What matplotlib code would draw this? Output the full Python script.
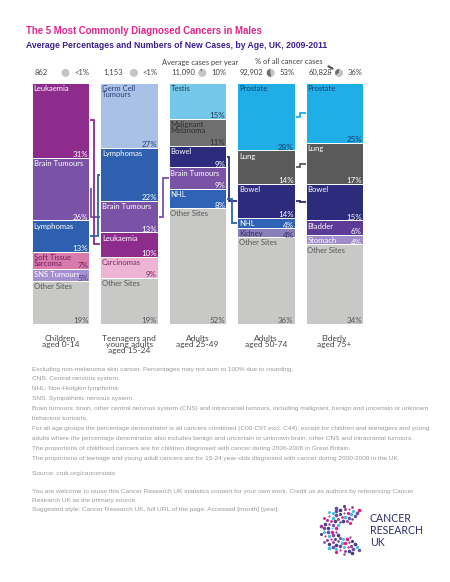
import matplotlib
matplotlib.use("Agg")
import matplotlib.pyplot as plt
import numpy as np

# ---- data ----
groups = ["Children\naged 0-14", "Teenagers and\nyoung adults\naged 15-24",
          "Adults\naged 25-49", "Adults\naged 50-74", "Elderly\naged 75+"]
cases_per_year = ["862", "1,153", "11,090", "92,902", "60,828"]
share_all = [0.5, 0.5, 10, 53, 36]
share_labels = ["<1%", "<1%", "10%", "53%", "36%"]

sites = [
    ["Leukaemia", "Brain Tumours", "Lymphomas", "Soft Tissue\nSarcoma", "SNS Tumours", "Other Sites"],
    ["Germ Cell\nTumours", "Lymphomas", "Brain Tumours", "Leukaemia", "Carcinomas", "Other Sites"],
    ["Testis", "Malignant\nMelanoma", "Bowel", "Brain Tumours", "NHL", "Other Sites"],
    ["Prostate", "Lung", "Bowel", "NHL", "Kidney", "Other Sites"],
    ["Prostate", "Lung", "Bowel", "Bladder", "Stomach", "Other Sites"],
]
percents = [
    [31, 26, 13, 7, 5, 19],
    [27, 22, 13, 10, 9, 19],
    [15, 11, 9, 9, 8, 52],
    [28, 14, 14, 4, 4, 36],
    [25, 17, 15, 6, 4, 34],
]

# links between the same site in neighbouring columns: (column, site, offset in gap)
links = [
    (0, "Brain Tumours", 0.10), (0, "Leukaemia", 0.38), (0, "Lymphomas", 0.75),
    (1, "Brain Tumours", 0.45),
    (2, "Bowel", 0.25), (2, "NHL", 0.55),
    (3, "Prostate", 0.45), (3, "Lung", 0.45), (3, "Bowel", 0.45),
]

notes = [
    "Excluding non-melanoma skin cancer. Percentages may not sum to 100% due to rounding.",
    "CNS: Central nervous system.",
    "NHL: Non-Hodgkin lymphoma.",
    "SNS: Sympathetic nervous system.",
    "Brain tumours: brain, other central nervous system (CNS) and intracranial tumours, including malignant, benign and uncertain or unknown",
    "behaviour tumours.",
    "For all age groups the percentage denominator is all cancers combined (C00-C97 excl. C44), except for children and teenagers and young",
    "adults where the percentage denominator also includes benign and uncertain or unknown brain, other CNS and intracranial tumours.",
    "The proportions of childhood cancers are for children diagnosed with cancer during 2006-2008 in Great Britain.",
    "The proportions of teenage and young adult cancers are for 15-24 year-olds diagnosed with cancer during 2000-2009 in the UK.",
]
reuse = [
    "You are welcome to reuse this Cancer Research UK statistics content for your own work. Credit us as authors by referencing Cancer",
    "Research UK as the primary source.",
    "Suggested style: Cancer Research UK, full URL of the page. Accessed [month] [year].",
]

# ---- styles ----
# fill, label colour, percent colour
style = {
    "Leukaemia": ("#8e2c8e", "white", "white"),
    "Brain Tumours": ("#7a52a6", "white", "white"),
    "Lymphomas": ("#2f5faf", "white", "white"),
    "Soft Tissue\nSarcoma": ("#d97baa", "#6b1d5e", "#6b1d5e"),
    "SNS Tumours": ("#a38fd1", "white", "#4a3a7a"),
    "Other Sites": ("#c8c8c6", "#555555", "#555555"),
    "Germ Cell\nTumours": ("#a9c1e6", "#2b3f7a", "#2b3f7a"),
    "Carcinomas": ("#eeb4d4", "#7a2a5e", "#7a2a5e"),
    "Testis": ("#74c7e8", "#1e3a5a", "#1e3a5a"),
    "Malignant\nMelanoma": ("#707070", "#2e2e2e", "#2e2e2e"),
    "Bowel": ("#2c2b7c", "white", "white"),
    "NHL": ("#2f63b6", "white", "white"),
    "Prostate": ("#1faee6", "#1b3a6b", "#1b3a6b"),
    "Lung": ("#5a5a5a", "white", "white"),
    "Kidney": ("#8a7ebb", "#2c2b5c", "#2c2b5c"),
    "Bladder": ("#5c3b97", "white", "white"),
    "Stomach": ("#a08ccb", "white", "white"),
}

W, H = 450, 582
fig = plt.figure(figsize=(W / 100, H / 100), dpi=100)
fig.patch.set_facecolor("white")

ax = fig.add_axes([32 / W, 1 - 324 / H, (363 - 32) / W, (324 - 83) / H])
ax.set_xlim(-0.42, 4.42)
ax.set_ylim(100, 0)
ax.axis("off")

bw = 0.84
lab_font = "Lato"
mids = []
for i, (names, vals) in enumerate(zip(sites, percents)):
    bottom = 0
    col_mids = {}
    for j, (name, v) in enumerate(zip(names, vals)):
        h = v if j < len(vals) - 1 else 100 - bottom
        fill, lc, pc = style[name]
        ax.bar(i, h, bottom=bottom, width=bw, color=fill, edgecolor="white", linewidth=0.7, zorder=2)
        ax.text(i - bw / 2 + 0.025, bottom + 0.9, name, ha="left", va="top", fontsize=5.5,
                color=lc, family=lab_font, linespacing=0.8, zorder=4)
        drop = 0.6 if h < 6 else 0.1
        ax.text(i + bw / 2 - 0.015, bottom + h + drop, f"{v}%", ha="right", va="bottom",
                fontsize=5.7, color=pc, family=lab_font, zorder=4)
        col_mids[name] = (bottom + h / 2, fill)
        bottom += h
    mids.append(col_mids)
    ax.text(i, 104.5, groups[i], ha="center", va="top", fontsize=6, color="#444444",
            family=lab_font, linespacing=0.85)

gap = 1 - bw
for i, name, off in links:
    ya, col = mids[i][name]
    yb, _ = mids[i + 1][name]
    xm = i + bw / 2 + off * gap
    ax.plot([i + bw / 2, xm, xm, i + 1 - bw / 2], [ya, ya, yb, yb], color=col,
            linewidth=1.3, solid_joinstyle="miter", zorder=1)

# header: cases per year and share of all cancers
to_fig = ax.transData + fig.transFigure.inverted()
for i in range(len(groups)):
    ax.text(i - bw / 2 + 0.04, -4.2, cases_per_year[i], ha="left", va="center",
            fontsize=5.5, color="#444444", family=lab_font)
    ax.text(i + bw / 2, -4.2, share_labels[i], ha="right", va="center",
            fontsize=5.5, color="#444444", family=lab_font)
    fx, fy = to_fig.transform((i + 0.07, -4.2))
    pax = fig.add_axes([fx - 5 / W, fy - 5 / H, 10 / W, 10 / H])
    pax.pie([share_all[i], 100 - share_all[i]], colors=["#6e6e6e", "#c4c4c4"],
            startangle=90, wedgeprops=dict(linewidth=0))
    pax.set_aspect("equal")

# overlay in pixel units for titles and notes
ov = fig.add_axes([0, 0, 1, 1])
ov.set_xlim(0, W)
ov.set_ylim(H, 0)
ov.axis("off")

ov.text(26, 31, "The 5 Most Commonly Diagnosed Cancers in Males", fontsize=6.9,
        fontweight="bold", color="#e0248f", family="Liberation Sans", va="center")
ov.text(26, 45, "Average Percentages and Numbers of New Cases, by Age, UK, 2009-2011",
        fontsize=6.25, fontweight="bold", color="#3a1f8f", family="Liberation Sans", va="center")
ov.text(200, 62, "Average cases per year", fontsize=5.4, color="#444444",
        family=lab_font, ha="center", va="center")
ov.text(289, 62, "% of all cancer cases", fontsize=5.4, color="#444444",
        family=lab_font, ha="center", va="center")
ov.annotate("", xy=(335, 70), xytext=(326, 65),
            arrowprops=dict(arrowstyle="-", color="#555555", lw=1.6))

y = 369
for k, line in enumerate(notes):
    ov.text(32, y, line, fontsize=4.65, color="#9a9a9a", family="Liberation Sans", va="center")
    y += 9.9
ov.text(32, 474, "Source: cruk.org/cancerstats", fontsize=4.65, color="#9a9a9a",
        family="Liberation Sans", va="center")
y = 491
for line in reuse:
    ov.text(32, y, line, fontsize=4.65, color="#9a9a9a", family="Liberation Sans", va="center")
    y += 9.5

# logo
cx, cy = 345, 530
dot_cols = ["#e4007c", "#8e2c8e", "#2c2b7c", "#5a3aa0", "#2fb5e0"]
k = 0
for r, n in [(9, 12), (13, 16), (17, 20), (21, 22), (24, 14)]:
    ang = np.linspace(np.radians(55), np.radians(305), n)
    for a in ang:
        s = 2 + 5 * abs(np.sin(a * 3 + r))
        ov.scatter(cx + r * np.cos(a), cy - r * np.sin(a), s=s, color=dot_cols[k % 5],
                   linewidths=0, alpha=0.9)
        k += 1
for t, yy in [("CANCER", 519), ("RESEARCH", 531), ("UK", 543)]:
    ov.text(370, yy, t, fontsize=7.6, color="#2c2b6b", family="Lato", va="center")

fig.savefig("out.png", dpi=100)
